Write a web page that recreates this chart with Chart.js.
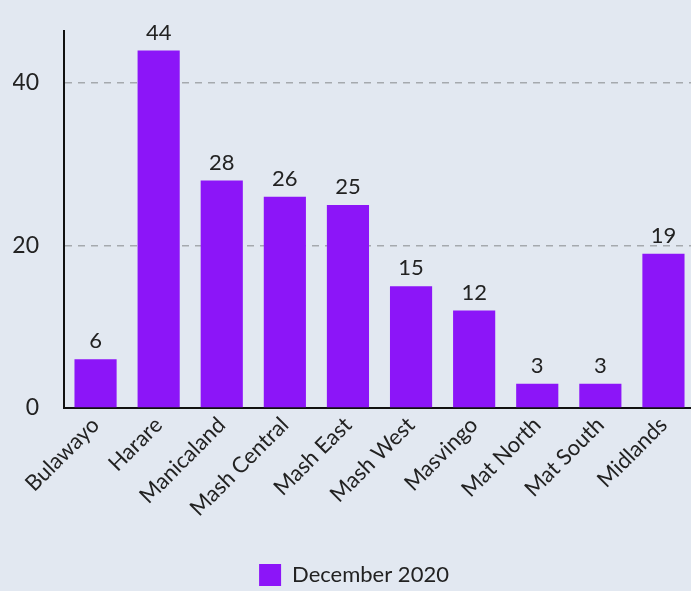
<!DOCTYPE html>
<html><head><meta charset="utf-8">
<script src="https://cdn.jsdelivr.net/npm/chart.js@4/dist/chart.umd.min.js"></script>
<style>html,body{margin:0;padding:0;background:#e2e8f1;overflow:hidden;}#wrap{width:691px;height:591px;overflow:hidden;}</style>
</head><body><div id="wrap"><canvas id="c" width="708" height="591"></canvas></div>
<script>
const categories = ["Bulawayo","Harare","Manicaland","Mash Central","Mash East","Mash West","Masvingo","Mat North","Mat South","Midlands"];
const seriesName = "December 2020";
const values = [6,44,28,26,25,15,12,3,3,19];
const yTicks = [0,20,40];

const FONT = "Lato, 'Open Sans', sans-serif";
const labelPlugin = {
  id:'barLabels',
  afterDatasetsDraw(chart){
    const ctx = chart.ctx;
    const meta = chart.getDatasetMeta(0);
    ctx.save();
    ctx.font = "22px " + FONT;
    ctx.fillStyle = "#222";
    ctx.textAlign = "center";
    ctx.textBaseline = "bottom";
    meta.data.forEach((el,i)=>{
      ctx.fillText(String(values[i]), el.x, el.y - 7);
    });
    ctx.restore();
  }
};
Chart.defaults.font.family = FONT;
new Chart(document.getElementById('c'), {
  type:'bar',
  data:{labels:categories, datasets:[{label:seriesName, data:values, backgroundColor:'#8c15f8', borderWidth:0, barPercentage:0.835, categoryPercentage:0.8}]},
  options:{
    responsive:false, animation:false,
    layout:{padding:{top:31,right:13,left:13,bottom:-5}},
    plugins:{
      legend:{position:'bottom', labels:{font:{size:22}, color:'#222', boxWidth:22, boxHeight:22, padding:10}},
      tooltip:{enabled:false}
    },
    scales:{
      x:{
        grid:{display:false, drawTicks:false},
        border:{color:'#111', width:2},
        ticks:{color:'#222', font:{size:22}, maxRotation:45, minRotation:45, padding:4},
        afterFit(s){ s.height = 146; s.paddingLeft = 0; s.paddingRight = 0; }
      },
      y:{
        min:0, max:46.4,
        afterBuildTicks(s){ s.ticks = yTicks.map(v=>({value:v})); },
        grid:{color:(c)=> c.tick && c.tick.value===0 ? 'rgba(0,0,0,0)' : '#a5a9ae', lineWidth:1.5, drawTicks:false},
        border:{color:'#111', width:2, dash:[7,6]},
        ticks:{color:'#222', font:{size:23}, padding:25},
        afterFit(s){ s.width = 51; s.paddingTop = 0; s.paddingBottom = 0; }
      }
    }
  },
  plugins:[labelPlugin, {id:'bg', beforeDraw(c){const x=c.ctx; x.save(); x.fillStyle='#e2e8f1'; x.fillRect(0,0,c.width,c.height); x.restore();}}]
});
</script></body></html>
